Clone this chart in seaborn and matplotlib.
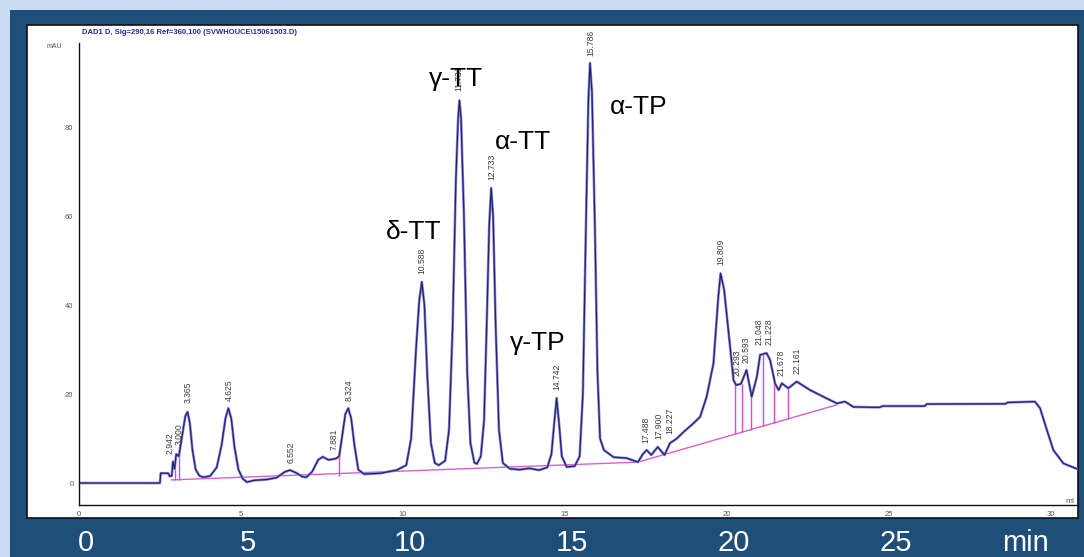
import matplotlib
matplotlib.use("Agg")
import matplotlib.pyplot as plt
import matplotlib.transforms as mtransforms
from matplotlib.patches import Rectangle
import seaborn as sns
import pandas as pd

# Detector trace (time in min, signal in mAU)
trace_t = [0.0, 2.50, 2.52, 2.75, 2.80, 2.86, 2.90, 2.95, 3.00, 3.08, 3.18, 3.28, 3.35, 3.42, 3.50,
           3.60, 3.72, 3.85, 4.05, 4.25, 4.40, 4.52, 4.61, 4.70, 4.80, 4.92, 5.05, 5.18, 5.40, 5.80,
           6.10, 6.35, 6.51, 6.70, 6.90, 7.02, 7.20, 7.38, 7.52, 7.70, 7.93, 8.03, 8.12, 8.22, 8.31,
           8.40, 8.50, 8.62, 8.80, 9.30, 9.80, 10.10, 10.25, 10.40, 10.50, 10.58, 10.66, 10.75, 10.86,
           10.98, 11.10, 11.30, 11.42, 11.53, 11.63, 11.70, 11.74, 11.79, 11.88, 11.98, 12.08, 12.20,
           12.28, 12.40, 12.50, 12.58, 12.66, 12.72, 12.78, 12.86, 12.96, 13.08, 13.30, 13.60, 13.90,
           14.20, 14.45, 14.58, 14.66, 14.74, 14.82, 14.90, 15.05, 15.30, 15.45, 15.55, 15.65, 15.72,
           15.77, 15.83, 15.92, 16.00, 16.08, 16.20, 16.50, 16.90, 17.25, 17.40, 17.52, 17.66, 17.86,
           18.07, 18.24, 18.35, 18.45, 18.66, 18.96, 19.17, 19.37, 19.58, 19.73, 19.80, 19.91, 20.04,
           20.20, 20.28, 20.43, 20.60, 20.76, 20.92, 21.02, 21.22, 21.33, 21.48, 21.59, 21.69, 21.89,
           22.15, 22.56, 23.08, 23.39, 23.64, 23.90, 24.70, 24.80, 26.10, 26.16, 28.60, 28.65, 29.50,
           29.66, 29.87, 30.07, 30.38, 30.90]
trace_v = [0.0, 0.0, 2.2, 2.2, 1.5, 1.6, 4.8, 3.2, 6.5, 6.0, 10.5, 15.0, 16.0, 13.5, 7.5,
           3.0, 1.6, 1.3, 1.6, 3.5, 8.5, 14.5, 16.8, 14.5, 8.0, 3.0, 1.0, 0.2, 0.6, 0.8,
           1.2, 2.5, 2.9, 2.3, 1.4, 1.3, 2.6, 5.2, 5.9, 5.2, 5.5, 6.0, 10.5, 15.5, 16.8,
           14.5, 8.5, 3.0, 2.0, 2.2, 2.9, 4.0, 10.0, 30.0, 41.0, 45.2, 40.0, 24.0, 9.0,
           4.5, 4.0, 5.0, 12.0, 35.0, 68.0, 82.0, 86.0, 82.0, 60.0, 25.0, 9.0, 4.6,
           4.3, 6.0, 14.0, 35.0, 58.0, 66.3, 60.0, 35.0, 12.0, 4.5, 3.2, 3.0, 3.3,
           2.9, 3.5, 6.5, 13.0, 19.1, 13.0, 6.0, 3.6, 3.8, 6.0, 20.0, 60.0, 86.0,
           94.4, 88.0, 58.0, 25.0, 10.0, 7.4, 5.8, 5.6, 4.7, 6.5, 7.4, 6.3, 8.1,
           6.3, 9.0, 9.5, 10.0, 11.5, 13.4, 14.9, 19.4, 26.9, 41.9, 47.1, 43.4, 34.4,
           23.1, 22.0, 22.3, 25.4, 19.4, 23.9, 28.8, 29.2, 27.6, 22.4, 20.9, 22.4, 21.3,
           22.8, 20.9, 19.0, 17.9, 18.3, 17.1, 17.0, 17.3, 17.3, 17.75, 17.8, 18.1, 18.3,
           16.8, 11.9, 7.4, 4.4, 2.9]

# Integration baseline and drop lines
base_t = [2.85, 17.25, 23.4]
base_v = [0.7, 4.7, 17.6]
drop_t = [2.95, 3.10, 8.03, 20.25, 20.45, 20.73, 21.12, 21.45, 21.89]
drop_lo = [0.73, 0.77, 1.6, 11.0, 11.4, 12.0, 12.8, 13.5, 14.4]
drop_hi = [3.2, 6.5, 6.0, 22.5, 22.3, 20.0, 29.0, 23.2, 21.3]

# Retention time labels (text, x position, bottom of text)
rt_labels = ["2.942", "3.000", "3.365", "4.625", "6.552", "7.881", "8.324", "10.588", "11.731",
             "12.733", "14.742", "15.786", "17.488", "17.900", "18.227", "19.809", "20.293",
             "20.593", "21.048", "21.228", "21.678", "22.161"]
rt_x = [2.80, 3.10, 3.365, 4.625, 6.552, 7.881, 8.324, 10.588, 11.731, 12.733, 14.742, 15.786,
        17.488, 17.900, 18.227, 19.809, 20.293, 20.593, 20.98, 21.30, 21.678, 22.161]
rt_top = [5.5, 7.5, 17.0, 17.5, 3.5, 6.5, 17.5, 46.0, 87.0, 67.0, 20.0, 95.0, 8.0, 9.0, 10.0,
          48.0, 23.0, 26.0, 30.0, 30.0, 23.0, 23.5]

# Compound names
compounds = ["δ-TT", "γ-TT", "α-TT", "γ-TP", "α-TP"]
comp_t = [10.34, 11.64, 13.7, 14.17, 17.28]
comp_v = [56.4, 90.8, 76.6, 31.4, 84.5]

big_ticks = ["0", "5", "10", "15", "20", "25"]

sns.set_style("white")
plt.rcParams["font.family"] = ["Liberation Sans", "DejaVu Sans"]

W, H = 1084, 557
fig = plt.figure(figsize=(W / 100, H / 100), dpi=100)
fig.patch.set_facecolor("#c9dcf2")
fig.patches.append(Rectangle((10 / W, 0), 1, (H - 10) / H, transform=fig.transFigure,
                             facecolor="#1f4e79", edgecolor="none", zorder=-3))
fig.patches.append(Rectangle((27 / W, (H - 518) / H), (1078 - 27) / W, (518 - 25) / H,
                             transform=fig.transFigure, facecolor="white",
                             edgecolor="#111111", lw=1.2, zorder=-2))

ax = fig.add_axes([79 / W, (H - 505) / H, (1078 - 79) / W, (505 - 43) / H])
ax.set_facecolor("none")
ax.set_zorder(1)

df = pd.DataFrame({"t": trace_t, "v": trace_v})
base = pd.DataFrame({"t": base_t, "v": base_v})

sns.lineplot(data=base, x="t", y="v", ax=ax, color="#d85fd0", lw=1.0, estimator=None, sort=False)
ax.vlines(drop_t, drop_lo, drop_hi, color="#d050c8", lw=1.0)
sns.lineplot(data=df, x="t", y="v", ax=ax, color="#8a8ad8", lw=1.9, estimator=None, sort=False)
sns.lineplot(data=df, x="t", y="v", ax=ax, color="#22226e", lw=0.9, estimator=None, sort=False)

for lab, x, v in zip(rt_labels, rt_x, rt_top):
    ax.text(x, v + 1.0, lab, rotation=90, ha="center", va="bottom",
            fontsize=6.2, color="#3c3c3c", clip_on=False)

for name, t, v in zip(compounds, comp_t, comp_v):
    ax.text(t, v, name, ha="center", va="center", fontsize=19, color="black")

ax.set_xlim(0, 30.83)
ax.set_ylim(-4.94, 98.9)
ax.set_xticks([0, 5, 10, 15, 20, 25, 30])
ax.set_yticks([0, 20, 40, 60, 80])
ax.set_yticks(range(0, 100, 5), minor=True)
ax.tick_params(axis="both", which="both", direction="out", length=2.5, width=0.8,
               labelsize=5.5, pad=1.5, colors="#222222")
ax.tick_params(axis="both", labelcolor="#555555")
ax.set_xlabel("")
ax.set_ylabel("")
for side in ["top", "right"]:
    ax.spines[side].set_visible(False)
for side in ["left", "bottom"]:
    ax.spines[side].set_color("#111111")
    ax.spines[side].set_linewidth(1.0)

ax.text(30.45, -4.2, "ml", fontsize=6, color="#555555", ha="left", va="center", clip_on=False)

# big white axis labels on the dark band
trans = mtransforms.blended_transform_factory(ax.transData, ax.transAxes)
for lab in big_ticks:
    ax.text(float(lab) + 0.2, -0.082, lab, transform=trans, ha="center", va="center",
            fontsize=21, color="white", clip_on=False)
ax.text(29.2, -0.082, "min", transform=trans, ha="center", va="center",
        fontsize=21, color="white", clip_on=False)

fig.text(82 / W, 1 - 32 / H, "DAD1 D, Sig=290,16 Ref=360,100 (SVWHOUCE\\15061503.D)",
         fontsize=5.5, color="#2a2a90", weight="bold", va="center")
fig.text(47 / W, 1 - 46 / H, "mAU", fontsize=5, color="#555555", va="center")

fig.savefig("out.png", dpi=100, facecolor=fig.get_facecolor())
